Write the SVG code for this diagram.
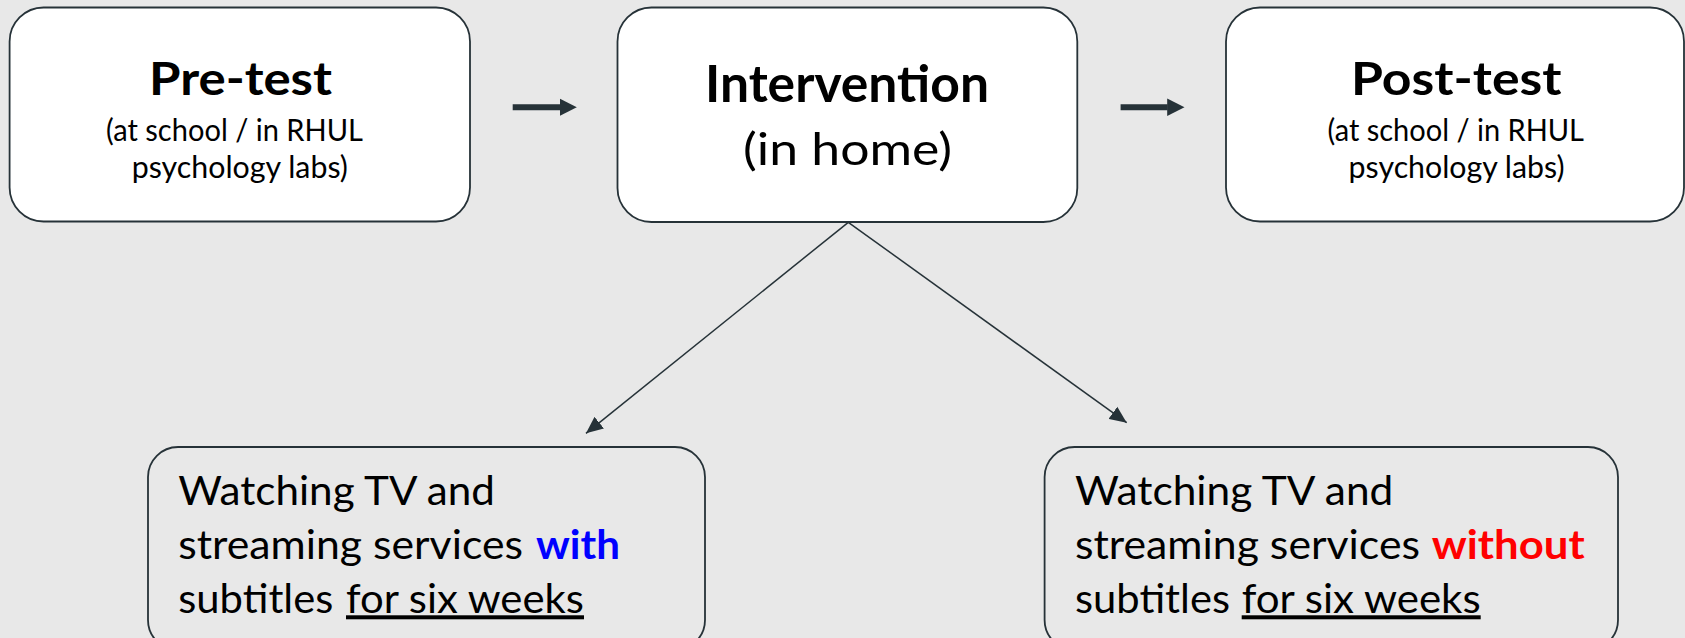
<svg xmlns="http://www.w3.org/2000/svg" width="1685" height="638" viewBox="0 0 1685 638">
<style>
.bg{fill:#e8e8e8}
.top{fill:#ffffff;stroke:#263238;stroke-width:1.8}
.bot{fill:#e8e8e8;stroke:#263238;stroke-width:1.8}
text{font-family:Lato,"Open Sans","Liberation Sans",sans-serif;fill:#000}
.b{font-weight:bold}
.thick{stroke:#263238;stroke-width:6;fill:none}
.thin{stroke:#263238;stroke-width:1.5;fill:none}
</style>
<defs>
<marker id="bigHead" markerUnits="userSpaceOnUse" markerWidth="18" markerHeight="18" viewBox="0 0 18 18" refX="0.5" refY="9" orient="auto">
<path d="M0,0.3 L17.3,9 L0,17.7 z" fill="#263238"/>
</marker>
<marker id="smallHead" markerUnits="userSpaceOnUse" markerWidth="18" markerHeight="16" viewBox="0 0 18 16" refX="17" refY="8" orient="auto">
<path d="M0,0.5 L17,8 L0,15.5 z" fill="#263238"/>
</marker>
</defs>
<rect class="bg" x="0" y="0" width="1685" height="638"/>

<g id="connectors">
<line class="thick" x1="512.7" y1="107.3" x2="560" y2="107.3" marker-end="url(#bigHead)"/>
<line class="thick" x1="1120.6" y1="107.3" x2="1167.7" y2="107.3" marker-end="url(#bigHead)"/>
<line class="thin" x1="848.3" y1="222.3" x2="586" y2="433.3" marker-end="url(#smallHead)"/>
<line class="thin" x1="848.3" y1="222.3" x2="1126.7" y2="422.7" marker-end="url(#smallHead)"/>
</g>

<g id="pretest">
<rect class="top" x="9.6" y="7.5" width="460.4" height="214" rx="34" ry="34"/>
<text class="b" x="149" y="95" font-size="45" textLength="183" lengthAdjust="spacingAndGlyphs">Pre-test</text>
<text x="106" y="141" font-size="31" textLength="257" lengthAdjust="spacingAndGlyphs">(at school / in RHUL</text>
<text x="131.7" y="177.5" font-size="31" textLength="216.3" lengthAdjust="spacingAndGlyphs">psychology labs)</text>
</g>

<g id="intervention">
<rect class="top" x="617.5" y="7.5" width="459.8" height="214.5" rx="34" ry="34"/>
<text class="b" x="705" y="101.5" font-size="51" textLength="284" lengthAdjust="spacingAndGlyphs">Intervention</text>
<text x="743" y="165" font-size="45" textLength="209" lengthAdjust="spacingAndGlyphs">(in home)</text>
</g>

<g id="posttest">
<rect class="top" x="1226" y="7.5" width="458" height="214" rx="34" ry="34"/>
<text class="b" x="1351" y="94.5" font-size="45" textLength="210.5" lengthAdjust="spacingAndGlyphs">Post-test</text>
<text x="1327.5" y="141" font-size="31" textLength="256.5" lengthAdjust="spacingAndGlyphs">(at school / in RHUL</text>
<text x="1348.6" y="177.5" font-size="31" textLength="216" lengthAdjust="spacingAndGlyphs">psychology labs)</text>
</g>

<g id="with-subtitles">
<rect class="bot" x="148" y="447" width="557" height="203" rx="30" ry="30"/>
<text x="178.3" y="505" font-size="40" textLength="316.7" lengthAdjust="spacingAndGlyphs">Watching TV and</text>
<text x="178.3" y="559.3" font-size="40" textLength="344.7" lengthAdjust="spacingAndGlyphs">streaming services</text>
<text class="b" x="536" y="559.3" font-size="40" style="fill:#0000ff" textLength="84" lengthAdjust="spacingAndGlyphs">with</text>
<text x="178.3" y="613.3" font-size="40" textLength="155" lengthAdjust="spacingAndGlyphs">subtitles</text>
<text x="346" y="613.3" font-size="40" text-decoration="underline" textLength="238" lengthAdjust="spacingAndGlyphs">for six weeks</text>
</g>

<g id="without-subtitles">
<rect class="bot" x="1044.6" y="447" width="573.4" height="203" rx="30" ry="30"/>
<text x="1075" y="505" font-size="40" textLength="318.3" lengthAdjust="spacingAndGlyphs">Watching TV and</text>
<text x="1075" y="559.3" font-size="40" textLength="345" lengthAdjust="spacingAndGlyphs">streaming services</text>
<text class="b" x="1431.7" y="559.3" font-size="40" style="fill:#ff0000" textLength="153" lengthAdjust="spacingAndGlyphs">without</text>
<text x="1075" y="613.3" font-size="40" textLength="155" lengthAdjust="spacingAndGlyphs">subtitles</text>
<text x="1241.7" y="613.3" font-size="40" text-decoration="underline" textLength="239" lengthAdjust="spacingAndGlyphs">for six weeks</text>
</g>
</svg>
